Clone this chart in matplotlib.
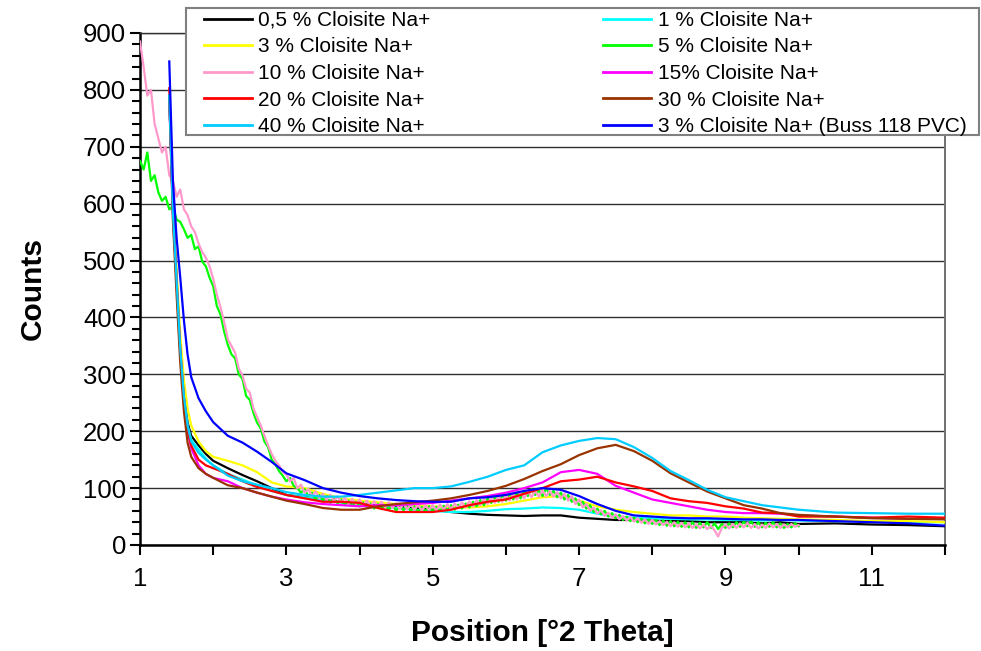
import matplotlib
matplotlib.use("Agg")
import matplotlib.pyplot as plt
from matplotlib.ticker import MultipleLocator, FixedLocator
from matplotlib.patches import Rectangle

plt.rcParams['font.family'] = ['Liberation Sans', 'DejaVu Sans']

# ---- data -------------------------------------------------------------
X_SMOOTH = [1.4, 1.45, 1.5, 1.55, 1.6, 1.65, 1.7, 1.8, 1.9, 2.0, 2.2, 2.4, 2.6, 2.8, 3.0,
            3.25, 3.5, 3.75, 4.0, 4.25, 4.5, 4.75, 5.0, 5.25, 5.5, 5.75, 6.0, 6.25, 6.5,
            6.75, 7.0, 7.25, 7.5, 7.75, 8.0, 8.25, 8.5, 8.75, 9.0, 9.25, 9.5, 9.75, 10.0,
            10.5, 11.0, 11.5, 12.0]

X_NOISY = [1.00, 1.05, 1.10, 1.15, 1.20, 1.25, 1.30, 1.35, 1.40, 1.45,
           1.50, 1.55, 1.60, 1.65, 1.70, 1.75, 1.80, 1.85, 1.90, 1.95,
           2.00, 2.05, 2.10, 2.15, 2.20, 2.25, 2.30, 2.35, 2.40, 2.45,
           2.50, 2.55, 2.60, 2.65, 2.70, 2.75, 2.80, 2.85, 2.90, 2.95,
           3.00, 3.05, 3.10, 3.15, 3.20, 3.25, 3.30, 3.35, 3.40, 3.45,
           3.50, 3.55, 3.60, 3.65, 3.70, 3.75, 3.80, 3.85, 3.90, 3.95,
           4.00, 4.05, 4.10, 4.15, 4.20, 4.25, 4.30, 4.35, 4.40, 4.45,
           4.50, 4.55, 4.60, 4.65, 4.70, 4.75, 4.80, 4.85, 4.90, 4.95,
           5.00, 5.05, 5.10, 5.15, 5.20, 5.25, 5.30, 5.35, 5.40, 5.45,
           5.50, 5.55, 5.60, 5.65, 5.70, 5.75, 5.80, 5.85, 5.90, 5.95,
           6.00, 6.05, 6.10, 6.15, 6.20, 6.25, 6.30, 6.35, 6.40, 6.45,
           6.50, 6.55, 6.60, 6.65, 6.70, 6.75, 6.80, 6.85, 6.90, 6.95,
           7.00, 7.05, 7.10, 7.15, 7.20, 7.25, 7.30, 7.35, 7.40, 7.45,
           7.50, 7.55, 7.60, 7.65, 7.70, 7.75, 7.80, 7.85, 7.90, 7.95,
           8.00, 8.05, 8.10, 8.15, 8.20, 8.25, 8.30, 8.35, 8.40, 8.45,
           8.50, 8.55, 8.60, 8.65, 8.70, 8.75, 8.80, 8.85, 8.90, 8.95,
           9.00, 9.05, 9.10, 9.15, 9.20, 9.25, 9.30, 9.35, 9.40, 9.45,
           9.50, 9.55, 9.60, 9.65, 9.70, 9.75, 9.80, 9.85, 9.90, 9.95,
           10.00]

c05 = [790, 590, 470, 350, 265, 215, 192, 175, 160, 148, 135, 123, 112, 100, 88,
       84, 80, 75, 72, 70, 68, 65, 62, 58, 55, 53, 52, 51, 52,
       52, 48, 46, 44, 44, 43, 42, 42, 40, 40, 40, 38, 40, 37,
       38, 36, 35, 33]
c1 = [790, 585, 465, 345, 262, 210, 185, 168, 152, 140, 125, 115, 105, 95, 88,
      84, 80, 75, 72, 68, 65, 62, 60, 58, 58, 60, 63, 64, 66,
      65, 62, 55, 50, 48, 47, 46, 45, 45, 44, 44, 43, 44, 43,
      42, 42, 40, 40]
c3 = [785, 600, 480, 370, 290, 240, 210, 182, 165, 155, 148, 140, 128, 110, 103,
      100, 90, 82, 78, 75, 72, 70, 68, 66, 66, 68, 72, 78, 84,
      86, 78, 68, 62, 58, 55, 52, 52, 50, 50, 48, 47, 46, 45,
      44, 42, 42, 40]
c5 = [675, 660, 690, 640, 650, 620, 605, 612, 590, 595,
      572, 568, 555, 540, 545, 520, 525, 498, 490, 470,
      455, 420, 405, 375, 352, 335, 328, 300, 292, 262,
      255, 232, 215, 205, 182, 172, 150, 142, 130, 122,
      112, 118, 104, 100, 92, 98, 86, 92, 80, 88,
      78, 86, 74, 82, 73, 80, 70, 78, 69, 76,
      68, 75, 66, 73, 64, 72, 63, 70, 62, 71,
      60, 69, 61, 70, 60, 68, 58, 67, 60, 68,
      59, 67, 60, 69, 61, 70, 62, 71, 64, 73,
      66, 76, 68, 79, 70, 82, 74, 85, 76, 88,
      78, 90, 80, 92, 82, 95, 86, 98, 88, 96,
      86, 100, 88, 95, 84, 92, 80, 88, 76, 82,
      70, 76, 64, 70, 58, 64, 54, 60, 50, 56,
      47, 53, 44, 50, 42, 48, 40, 46, 38, 45,
      37, 44, 35, 43, 34, 42, 33, 41, 32, 40,
      31, 40, 30, 39, 31, 40, 30, 38, 28, 37,
      30, 38, 31, 40, 32, 41, 33, 42, 32, 40,
      31, 39, 32, 40, 31, 38, 30, 37, 31, 38,
      33]
c10 = [885, 840, 790, 800, 740, 715, 690, 700, 650, 640,
       612, 625, 590, 580, 560, 550, 530, 515, 505, 490,
       468, 440, 418, 392, 362, 350, 338, 310, 298, 275,
       268, 240, 225, 210, 192, 175, 160, 148, 140, 128,
       124, 112, 118, 100, 106, 92, 98, 86, 94, 82,
       90, 79, 88, 77, 85, 75, 83, 73, 81, 72,
       80, 70, 78, 68, 77, 67, 76, 66, 75, 65,
       73, 63, 72, 63, 71, 62, 70, 61, 69, 62,
       70, 61, 71, 62, 72, 63, 73, 65, 75, 66,
       77, 68, 79, 70, 81, 72, 84, 74, 86, 76,
       88, 78, 90, 80, 92, 82, 94, 84, 95, 85,
       96, 86, 95, 85, 93, 82, 90, 78, 86, 72,
       80, 66, 72, 60, 66, 55, 61, 51, 57, 48,
       54, 45, 51, 43, 49, 41, 47, 39, 45, 37,
       44, 36, 42, 35, 41, 33, 40, 32, 39, 31,
       38, 30, 37, 29, 36, 28, 34, 26, 15, 30,
       36, 29, 37, 30, 38, 31, 39, 30, 37, 29,
       36, 30, 38, 31, 37, 30, 36, 31, 37, 32,
       35]
c15 = [780, 580, 460, 340, 255, 200, 170, 140, 125, 118, 112, 100, 92, 85, 80,
       75, 72, 70, 68, 70, 70, 72, 74, 78, 82, 86, 92, 100, 110,
       128, 132, 125, 104, 92, 80, 74, 68, 62, 58, 56, 56, 55, 52,
       50, 48, 46, 46]
c20 = [803, 590, 465, 345, 260, 205, 175, 150, 140, 135, 125, 112, 102, 95, 88,
       82, 76, 76, 74, 65, 58, 58, 58, 62, 70, 76, 80, 90, 100,
       112, 115, 120, 110, 103, 95, 82, 77, 74, 68, 64, 57, 56, 50,
       50, 48, 50, 48]
c30 = [790, 570, 440, 320, 235, 180, 155, 135, 125, 118, 105, 100, 92, 85, 78,
       72, 65, 62, 62, 68, 72, 75, 78, 82, 88, 95, 104, 116, 130,
       142, 158, 170, 176, 165, 148, 126, 110, 94, 82, 70, 64, 56, 53,
       50, 47, 46, 45]
c40 = [790, 585, 465, 345, 262, 210, 182, 162, 150, 140, 122, 112, 106, 100, 93,
       88, 85, 85, 88, 92, 96, 100, 100, 103, 111, 120, 132, 140, 163,
       175, 183, 188, 186, 172, 153, 130, 114, 97, 84, 77, 70, 66, 62,
       57, 56, 55, 55]
cbuss = [850, 640, 540, 470, 395, 335, 295, 258, 235, 216, 192, 180, 164, 146, 126,
         114, 100, 92, 86, 82, 79, 77, 76, 76, 82, 84, 88, 95, 100,
         97, 86, 72, 60, 52, 50, 48, 47, 47, 46, 45, 45, 44, 44,
         42, 40, 38, 34]

X_TICKS = [1, 3, 5, 7, 9, 11]

# legend order (matplotlib fills columns first)
SERIES = [
    ("0,5 % Cloisite Na+", X_SMOOTH, c05, "#000000"),
    ("3 % Cloisite Na+", X_SMOOTH, c3, "#FFFF00"),
    ("10 % Cloisite Na+", X_NOISY, c10, "#FF99CC"),
    ("20 % Cloisite Na+", X_SMOOTH, c20, "#FF0000"),
    ("40 % Cloisite Na+", X_SMOOTH, c40, "#00CCFF"),
    ("1 % Cloisite Na+", X_SMOOTH, c1, "#00FFFF"),
    ("5 % Cloisite Na+", X_NOISY, c5, "#00FF00"),
    ("15% Cloisite Na+", X_SMOOTH, c15, "#FF00FF"),
    ("30 % Cloisite Na+", X_SMOOTH, c30, "#993300"),
    ("3 % Cloisite Na+ (Buss 118 PVC)", X_SMOOTH, cbuss, "#0000FF"),
]
DRAW_ORDER = [0, 5, 1, 6, 2, 7, 3, 8, 4, 9]

# ---- figure -------------------------------------------------------------
fig = plt.figure(figsize=(9.81, 6.51), dpi=100)
ax = fig.add_axes([140/981, 106/651, 805/981, 512/651])

handles = {}
for i in DRAW_ORDER:
    lab, xs, ys, col = SERIES[i]
    ln, = ax.plot(xs, ys, color=col, lw=1.6, label=lab, zorder=3)
    handles[i] = ln

ax.set_xlim(1, 12)
ax.set_ylim(0, 900)
ax.xaxis.set_major_locator(FixedLocator(X_TICKS))
ax.xaxis.set_minor_locator(MultipleLocator(1))
ax.yaxis.set_major_locator(MultipleLocator(100))
ax.yaxis.set_minor_locator(MultipleLocator(20))

ax.grid(axis='y', which='major', color='#303030', lw=1.0)
ax.set_axisbelow(True)

ax.tick_params(axis='both', which='major', direction='out', length=7, width=1.5,
               labelsize=18.5, color='black')
ax.tick_params(axis='x', which='minor', direction='out', length=7, width=1.5)
ax.tick_params(axis='y', which='minor', direction='out', length=6, width=1.5)
ax.tick_params(axis='x', which='major', pad=9)
ax.tick_params(axis='y', which='major', pad=3)

for s in ['left', 'bottom']:
    ax.spines[s].set_color('black')
    ax.spines[s].set_linewidth(1.8)
ax.spines['right'].set_color('#707070')
ax.spines['right'].set_linewidth(1.4)
ax.spines['top'].set_color('#303030')
ax.spines['top'].set_linewidth(1.0)

ax.set_xlabel("Position [°2 Theta]", fontsize=21.5, fontweight='bold', labelpad=20)
ax.set_ylabel("Counts", fontsize=21.5, fontweight='bold', labelpad=26)

# legend box
box = Rectangle((186/981, 1 - 135/651), 793/981, 127/651, transform=fig.transFigure,
                facecolor='white', edgecolor='#808080', lw=1.5, zorder=4)
fig.add_artist(box)

leg = fig.legend([handles[i] for i in range(10)], [SERIES[i][0] for i in range(10)],
                 ncol=2, loc='upper left',
                 bbox_to_anchor=(204/981, 1 - 11/651),
                 bbox_transform=fig.transFigure,
                 fontsize=15, frameon=False,
                 handlelength=2.3, handletextpad=0.3, columnspacing=8.3,
                 labelspacing=0.36, borderpad=0, borderaxespad=0)
leg.set_zorder(5)
for l in leg.get_lines():
    l.set_linewidth(2)

fig.savefig("out.png", dpi=100)
